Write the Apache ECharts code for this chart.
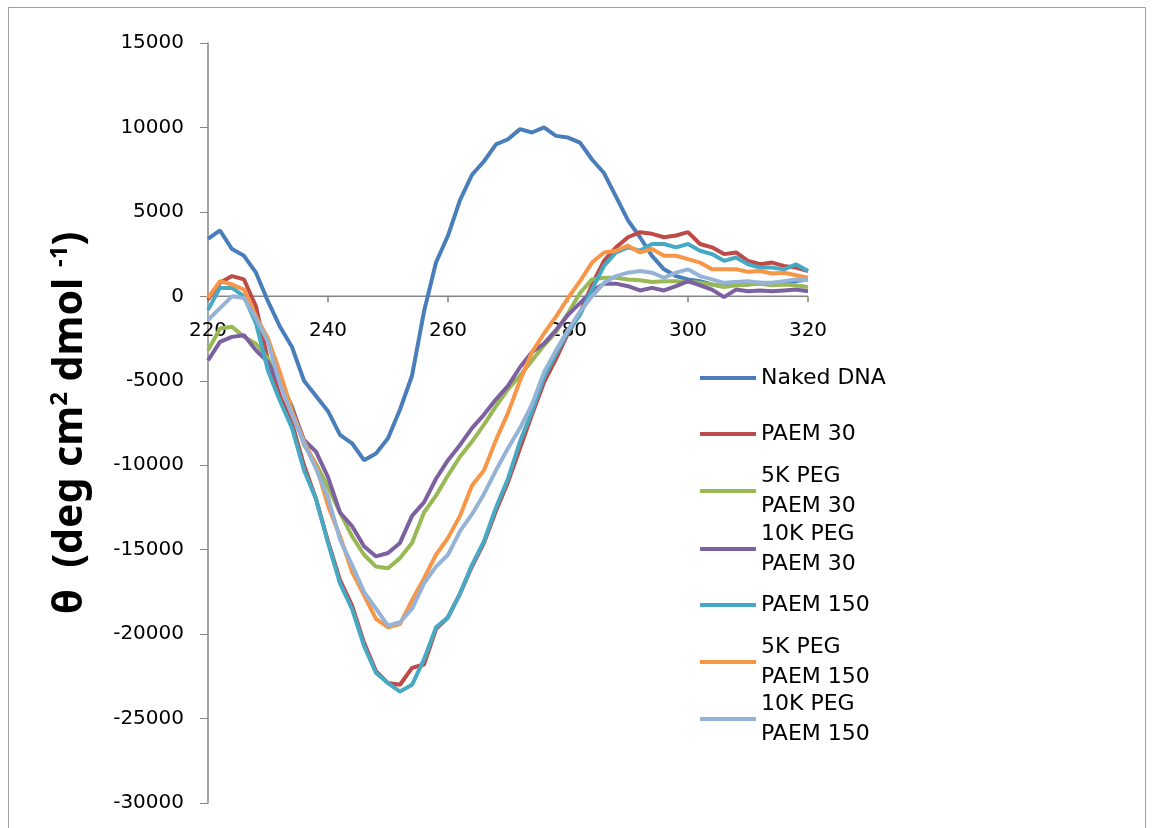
<!DOCTYPE html>
<html>
<head>
<meta charset="utf-8">
<script src="https://cdn.jsdelivr.net/npm/echarts@6/dist/echarts.min.js"></script>
<style>
html,body{margin:0;padding:0;background:#fff;}
#chart{width:1152px;height:828px;}
</style>
</head>
<body>
<div id="chart"></div>
<script>
const wavelengths = [220,222,224,226,228,230,232,234,236,238,240,242,244,246,248,250,252,254,256,258,260,262,264,266,268,270,272,274,276,278,280,282,284,286,288,290,292,294,296,298,300,302,304,306,308,310,312,314,316,318,320];

const seriesNames = ["Naked DNA","PAEM 30","5K PEG PAEM 30","10K PEG PAEM 30","PAEM 150","5K PEG PAEM 150","10K PEG PAEM 150"];
const legendLabels = ["Naked DNA","PAEM 30","5K PEG\nPAEM 30","10K PEG\nPAEM 30","PAEM 150","5K PEG\nPAEM 150","10K PEG\nPAEM 150"];

const nakedDNA = [3400,3900,2800,2400,1400,-300,-1800,-3000,-5000,-5900,-6800,-8200,-8700,-9700,-9300,-8400,-6700,-4700,-900,2000,3600,5700,7200,8000,9000,9300,9900,9700,10000,9500,9400,9100,8100,7300,5900,4500,3500,2400,1600,1200,1000,900,700,600,700,700,800,700,800,900,1000];
const paem30 = [-200,800,1200,1000,-600,-3800,-5900,-7500,-10000,-12000,-14500,-16800,-18300,-20500,-22200,-22900,-23000,-22000,-21800,-19700,-19000,-17600,-16000,-14600,-12700,-11000,-9000,-7000,-5100,-3700,-2200,-1000,700,2100,2900,3500,3800,3700,3500,3600,3800,3100,2900,2500,2600,2100,1900,2000,1800,1700,1500];
const peg5k30 = [-3200,-1900,-1800,-2400,-2800,-3700,-5000,-6500,-8800,-9900,-11300,-12800,-14200,-15300,-16000,-16100,-15500,-14600,-12800,-11800,-10600,-9500,-8600,-7600,-6500,-5500,-4700,-3800,-2900,-2100,-1000,200,1000,1100,1100,1000,950,850,900,900,850,800,700,550,650,700,750,650,700,650,550];
const peg10k30 = [-3800,-2700,-2400,-2300,-3200,-3900,-5200,-6600,-8500,-9200,-10700,-12800,-13600,-14800,-15400,-15200,-14600,-13000,-12200,-10800,-9700,-8800,-7800,-7000,-6100,-5300,-4200,-3300,-2800,-2000,-1100,-400,300,750,750,600,350,500,350,600,900,650,400,-50,400,300,350,300,350,400,300];
const paem150 = [-800,500,500,0,-1600,-4400,-6200,-7800,-10300,-12000,-14600,-17000,-18500,-20700,-22300,-22900,-23400,-23000,-21500,-19600,-19000,-17600,-15900,-14500,-12500,-10800,-8600,-6800,-4800,-3400,-2100,-1100,400,1800,2600,2900,2700,3100,3100,2900,3100,2700,2500,2100,2300,1900,1700,1700,1600,1900,1500];
const peg5k150 = [-100,900,700,400,-1200,-2500,-4500,-6800,-8600,-10000,-12400,-14200,-16300,-17700,-19100,-19600,-19400,-18000,-16700,-15300,-14300,-13000,-11200,-10300,-8500,-6900,-5000,-3300,-2200,-1200,-100,900,2000,2600,2700,3000,2600,2800,2400,2400,2200,2000,1600,1600,1600,1450,1500,1350,1400,1250,1100];
const peg10k150 = [-1400,-700,0,-100,-1300,-2700,-5200,-7000,-8700,-10200,-11900,-14400,-15900,-17500,-18500,-19500,-19300,-18500,-17000,-16000,-15300,-13900,-12900,-11700,-10300,-9000,-7800,-6400,-4500,-3200,-2000,-900,0,800,1200,1400,1500,1400,1100,1400,1600,1200,1000,800,850,900,800,800,900,1000,950];

const allValues = [nakedDNA,paem30,peg5k30,peg10k30,paem150,peg5k150,peg10k150];
const colors = ["#4A7EBB","#BE4B48","#98B954","#7D60A0","#46AAC5","#F79646","#95B3D7"];
const legendCenters = [378,434,491,549,605,662,719];

const yTicks = {min:-30000, max:15000, interval:5000};
const xTicks = {min:220, max:320, interval:20};
const xTickValues = [220,240,260,280,300,320];

const H = 828;
const mainGrid = {left:208, right:344, top:43, bottom:25};
const plotH = H - mainGrid.top - mainGrid.bottom;
// y pixel of value 0 on the main value axis; a helper grid ends there so its x axis labels sit below y = 0
const zeroY = mainGrid.top + plotH * (yTicks.max - 0) / (yTicks.max - yTicks.min);
const zeroGrid = {left:208, right:344, top:43, bottom: H - zeroY};
// 6 px tick length expressed in y units
const tickLen = 6 * (yTicks.max - yTicks.min) / plotH;

const axisGray = '#868686';

function helperLine(name, pts){
  return {
    name:name, type:'line', xAxisIndex:0, yAxisIndex:0, symbol:'none', silent:true,
    data:pts, lineStyle:{color:axisGray, width:1.5}, itemStyle:{color:axisGray},
    z:2, animation:false, clip:false, tooltip:{show:false}
  };
}

// horizontal axis line at y = 0 and its tick marks, drawn through the chart's scales
const axisSeries = [helperLine('zero-axis', [[xTicks.min,0],[xTicks.max,0]])]
  .concat(xTickValues.map(v=>helperLine('tick-'+v, [[v,0],[v,-tickLen]])));

const dataSeries = seriesNames.map((n,i)=>({
  name:n, type:'line', symbol:'none', smooth:false,
  xAxisIndex:0, yAxisIndex:0,
  data: wavelengths.map((w,j)=>[w, allValues[i][j]]),
  lineStyle:{color:colors[i], width:4},
  itemStyle:{color:colors[i]},
  animation:false, z:3
}));

const legends = seriesNames.map((n,i)=>{
  const multi = legendLabels[i].indexOf('\n')>=0;
  return {
    data:[n], left:700, top: multi ? legendCenters[i]-45 : legendCenters[i]-15,
    orient:'vertical', padding:0,
    icon:'rect', itemWidth:56, itemHeight:4,
    formatter: ()=>legendLabels[i],
    textStyle:{fontFamily:'DejaVu Sans', fontSize:22, color:'#000', lineHeight:30, padding: multi ? [30,0,0,0] : 0},
    selectedMode:false
  };
});

const chart = echarts.init(document.getElementById('chart'), null, {renderer:'canvas'});
chart.setOption({
  backgroundColor:'#fff',
  animation:false,
  graphic:[{type:'rect', shape:{x:8.5,y:7.5,width:1137,height:830}, style:{fill:'none', stroke:'#a0a0a0', lineWidth:1}, silent:true, z:-1}],
  grid: [mainGrid, zeroGrid],
  legend: legends,
  xAxis:[{
    gridIndex:0, type:'value', min:xTicks.min, max:xTicks.max, interval:xTicks.interval,
    show:false, splitLine:{show:false}
  },{
    gridIndex:1, type:'value', min:xTicks.min, max:xTicks.max, interval:xTicks.interval,
    position:'bottom',
    axisLine:{show:false},
    axisTick:{show:false},
    axisLabel:{margin:24, fontFamily:'DejaVu Sans', fontSize:20, color:'#000'},
    splitLine:{show:false}
  }],
  yAxis:[{
    gridIndex:0, type:'value', min:yTicks.min, max:yTicks.max, interval:yTicks.interval,
    axisLine:{show:true, onZero:false, lineStyle:{color:axisGray, width:1.5}},
    axisTick:{show:true, length:8, lineStyle:{color:axisGray}},
    axisLabel:{margin:24, fontFamily:'DejaVu Sans', fontSize:20, color:'#000', formatter:(v)=>String(v)},
    splitLine:{show:false},
    name:'{a|θ  (deg cm}{s|2}{a| dmol }{s|-1}{a|)}',
    nameLocation:'middle', nameRotate:90, nameGap:116,
    nameTextStyle:{
      rich:{
        a:{fontFamily:'Noto Sans', fontWeight:'bold', fontSize:41, color:'#000'},
        s:{fontFamily:'Noto Sans', fontWeight:'bold', fontSize:24, color:'#000', verticalAlign:'top', padding:[0,0,20,0]}
      }
    }
  },{
    gridIndex:1, type:'value', min:0, max:yTicks.max, show:false, splitLine:{show:false}
  }],
  series: axisSeries.concat(dataSeries)
});
</script>
</body>
</html>
